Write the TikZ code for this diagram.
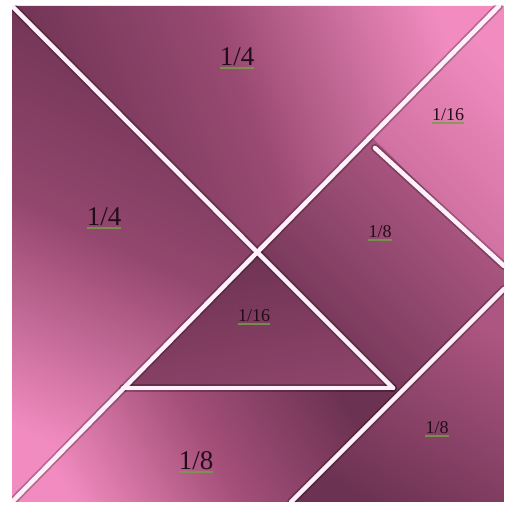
\documentclass[tikz,border=0pt]{standalone}
\usepackage{fontspec}
\setmainfont{Liberation Serif}
\definecolor{dk}{RGB}{108,50,82}
\definecolor{md}{RGB}{165,80,122}
\definecolor{lt}{RGB}{242,140,192}
\definecolor{ln}{RGB}{255,240,252}
\definecolor{ul}{RGB}{115,160,70}
\definecolor{tx}{RGB}{35,12,25}
\tikzset{
  seg/.style={draw=ln, line width=4.5pt, line cap=round},
  segshadow/.style={draw=black, opacity=0.25, line width=8pt, line cap=round},
  bigl/.style={inner sep=0pt, text=tx, font=\fontsize{27}{27}\selectfont},
  smalll/.style={inner sep=0pt, text=tx, font=\fontsize{18}{18}\selectfont},
  uline/.style={draw=ul, line width=2pt, opacity=0.8}
}
\begin{document}
\begin{tikzpicture}[x=1pt,y=1pt]
\useasboundingbox (0,0) rectangle (504,508);
\fill[white] (0,0) rectangle (504,508);
% corners and vertices (y measured upward)
\coordinate (A) at (12,502);
\coordinate (B) at (504,502);
\coordinate (C) at (504,6);
\coordinate (D) at (12,6);
\coordinate (T) at (499,502);
\coordinate (O) at (257,256);
\coordinate (L) at (123,120);
\coordinate (R) at (393,120);
\coordinate (Rb) at (398,115);
\coordinate (P) at (375,360);
\coordinate (Pd) at (371,372);
\coordinate (Q) at (504,242);
\coordinate (S) at (504,219);
\coordinate (M) at (291,6);
\coordinate (Dd) at (13,7);
% pieces
\shade[top color=lt, bottom color=dk, middle color=md!80!dk, shading angle=-70] (A) -- (T) -- (O) -- cycle;
\shade[top color=dk, bottom color=lt, middle color=md!70!dk, shading angle=-25] (A) -- (O) -- (Dd) -- (D) -- cycle;
\shade[top color=lt, bottom color=md!60!lt, shading angle=-45] (T) -- (B) -- (Q) -- (Pd) -- cycle;
\shade[top color=md!80!lt, bottom color=dk, shading angle=-45] (O) -- (Pd) -- (Q) -- (S) -- (Rb) -- cycle;
\shade[top color=dk, bottom color=md!60!dk, shading angle=10] (O) -- (L) -- (R) -- cycle;
\shade[top color=dk, bottom color=lt, middle color=md, shading angle=-60] (D) -- (Dd) -- (L) -- (R) -- (Rb) -- (M) -- cycle;
\shade[top color=md!90!lt, bottom color=dk, shading angle=-30] (M) -- (S) -- (C) -- cycle;
% dividing lines, clipped to the square
\begin{scope}
\clip (D) rectangle (B);
\foreach \p/\q in {A/R, Dd/T, L/R, P/Q, M/S}{
  \draw[segshadow] (\p) -- (\q);
}
\draw[seg] (A) -- (O) -- (R);
\draw[seg] (Dd) -- (T);
\draw[seg] (L) -- (R);
\draw[seg] (P) -- (Q);
\draw[seg] (M) -- (S);
\end{scope}
% labels
\node[bigl] (t1) at (237,451) {1/4};
\node[bigl] (t2) at (104,291) {1/4};
\node[smalll] (t3) at (448,393) {1/16};
\node[smalll] (t4) at (380,276) {1/8};
\node[smalll] (t5) at (254,192) {1/16};
\node[smalll] (t6) at (437,80) {1/8};
\node[bigl] (t7) at (196,47) {1/8};
\foreach \n in {t1,t2,t3,t4,t5,t6,t7}{
  \draw[uline] ([yshift=-2pt]\n.south west) -- ([yshift=-2pt]\n.south east);
}
\end{tikzpicture}
\end{document}
